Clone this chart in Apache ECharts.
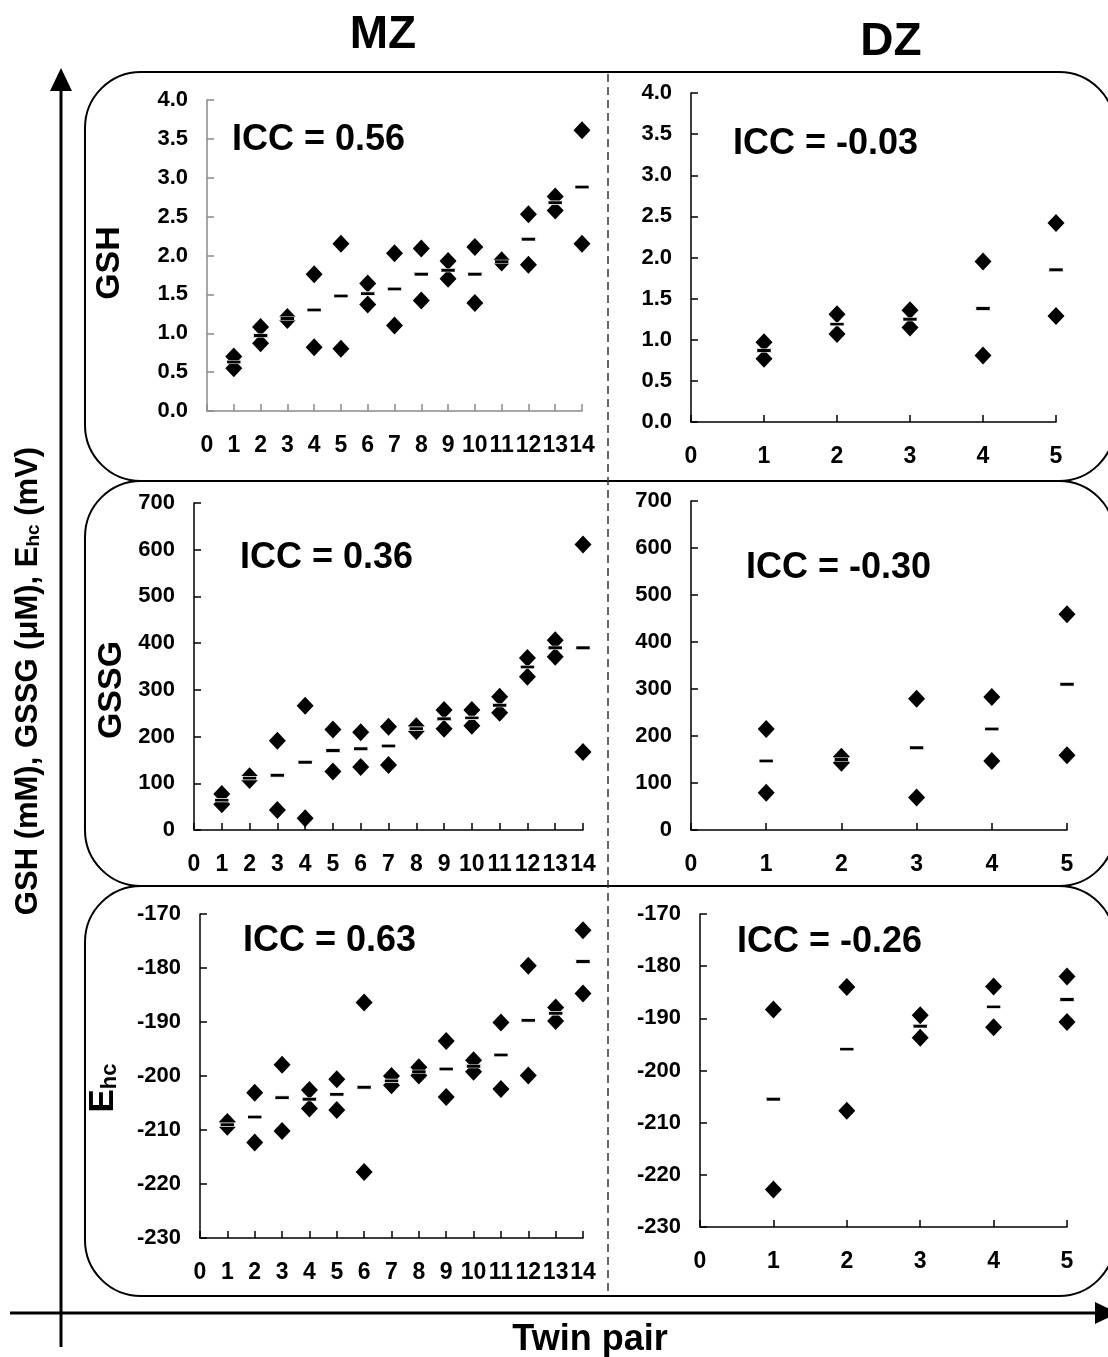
<!DOCTYPE html>
<html>
<head>
<meta charset="utf-8">
<script src="https://cdn.jsdelivr.net/npm/echarts@6.0.0/dist/echarts.min.js"></script>
</head>
<body style="margin:0;background:#fff">
<div id="chart" style="width:1108px;height:1357px"></div>
<script>
// twin pair numbers
var mzPairs = [1, 2, 3, 4, 5, 6, 7, 8, 9, 10, 11, 12, 13, 14];
var dzPairs = [1, 2, 3, 4, 5];

// GSH (mM)
var gshMzA = [0.70, 1.08, 1.21, 1.76, 2.15, 1.64, 2.03, 2.09, 1.93, 2.11, 1.94, 2.53, 2.76, 3.61];
var gshMzB = [0.55, 0.87, 1.17, 0.82, 0.80, 1.37, 1.10, 1.42, 1.70, 1.39, 1.91, 1.88, 2.58, 2.15];
var gshMzMean = [0.63, 0.97, 1.19, 1.30, 1.48, 1.51, 1.57, 1.76, 1.81, 1.76, 1.92, 2.21, 2.68, 2.88];
var gshDzA = [0.97, 1.31, 1.36, 1.95, 2.42];
var gshDzB = [0.77, 1.07, 1.15, 0.81, 1.29];
var gshDzMean = [0.87, 1.19, 1.25, 1.38, 1.85];

// GSSG (uM)
var gssgMzA = [77, 115, 191, 266, 215, 209, 221, 222, 257, 257, 285, 368, 406, 611];
var gssgMzB = [55, 107, 43, 25, 125, 135, 139, 212, 217, 223, 251, 328, 371, 167];
var gssgMzMean = [64, 111, 117, 145, 170, 174, 180, 217, 238, 240, 267, 349, 390, 390];
var gssgDzA = [215, 156, 279, 283, 459];
var gssgDzB = [79, 143, 69, 147, 159];
var gssgDzMean = [147, 150, 175, 215, 310];

// Ehc (mV)
var ehcMzA = [-208.5, -203.1, -197.9, -202.6, -200.6, -186.4, -200.0, -198.4, -193.5, -197.1, -190.1, -179.6, -187.3, -173.0];
var ehcMzB = [-209.4, -212.3, -210.2, -206.0, -206.3, -217.8, -201.7, -199.9, -203.9, -199.2, -202.4, -199.9, -189.8, -184.7];
var ehcMzMean = [-209.0, -207.6, -204.0, -204.3, -203.4, -202.1, -200.9, -199.2, -198.7, -198.2, -196.1, -189.7, -188.4, -178.8];
var ehcDzA = [-188.3, -184.0, -189.4, -183.9, -182.0];
var ehcDzB = [-222.8, -207.7, -193.7, -191.7, -190.7];
var ehcDzMean = [-205.5, -195.9, -191.5, -187.8, -186.4];

var iccLabels = ['ICC = 0.56', 'ICC = -0.03', 'ICC = 0.36', 'ICC = -0.30', 'ICC = 0.63', 'ICC = -0.26'];

var FONT = '"Liberation Sans", Arial, sans-serif';

var panels = [
    {grid: {left: 207, top: 100, width: 375, height: 311}, xmax: 14, ymin: 0, ymax: 4, step: 0.5, dec: 1, color: '#8a8a8a',
        pairs: mzPairs, a: gshMzA, b: gshMzB, m: gshMzMean},
    {grid: {left: 691, top: 93, width: 365, height: 329}, xmax: 5, ymin: 0, ymax: 4, step: 0.5, dec: 1, color: '#000',
        pairs: dzPairs, a: gshDzA, b: gshDzB, m: gshDzMean},
    {grid: {left: 194, top: 503, width: 389, height: 327}, xmax: 14, ymin: 0, ymax: 700, step: 100, dec: 0, color: '#000',
        pairs: mzPairs, a: gssgMzA, b: gssgMzB, m: gssgMzMean},
    {grid: {left: 691, top: 501, width: 376, height: 329}, xmax: 5, ymin: 0, ymax: 700, step: 100, dec: 0, color: '#000',
        pairs: dzPairs, a: gssgDzA, b: gssgDzB, m: gssgDzMean},
    {grid: {left: 200, top: 914, width: 383, height: 324}, xmax: 14, ymin: -230, ymax: -170, step: 10, dec: 0, color: '#000',
        pairs: mzPairs, a: ehcMzA, b: ehcMzB, m: ehcMzMean},
    {grid: {left: 700, top: 914, width: 367, height: 313}, xmax: 5, ymin: -230, ymax: -170, step: 10, dec: 0, color: '#000',
        pairs: dzPairs, a: ehcDzA, b: ehcDzB, m: ehcDzMean}
];

function zip(xs, ys) {
    var out = [];
    for (var i = 0; i < xs.length; i++) out.push([xs[i], ys[i]]);
    return out;
}

var grids = [], xAxes = [], yAxes = [], series = [];
panels.forEach(function (p, i) {
    grids.push(p.grid);
    xAxes.push({
        type: 'value', gridIndex: i, min: 0, max: p.xmax, interval: 1,
        axisLine: {show: true, onZero: false, lineStyle: {color: p.color, width: 1.5}},
        axisTick: {show: true, inside: true, length: 7, lineStyle: {color: p.color, width: 1.5}},
        axisLabel: {margin: 23, color: '#000', fontSize: 23, fontWeight: 'bold', fontFamily: FONT},
        splitLine: {show: false}
    });
    yAxes.push({
        type: 'value', gridIndex: i, min: p.ymin, max: p.ymax, interval: p.step,
        axisLine: {show: true, onZero: false, lineStyle: {color: p.color, width: 1.5}},
        axisTick: {show: true, inside: true, length: 7, lineStyle: {color: p.color, width: 1.5}},
        axisLabel: {margin: 19, color: '#000', fontSize: 22, fontWeight: 'bold', fontFamily: FONT,
            formatter: (function (d) { return function (v) { return v.toFixed(d); }; })(p.dec)},
        splitLine: {show: false}
    });
    [p.a, p.b].forEach(function (vals) {
        series.push({
            type: 'scatter', xAxisIndex: i, yAxisIndex: i, symbol: 'diamond', symbolSize: [17, 18],
            itemStyle: {color: '#000', opacity: 1}, data: zip(p.pairs, vals), silent: true, z: 2
        });
    });
    series.push({
        type: 'scatter', xAxisIndex: i, yAxisIndex: i, symbol: 'rect', symbolSize: [16, 3.5],
        itemStyle: {color: '#000', opacity: 1, borderColor: '#fff', borderWidth: 1.2}, data: zip(p.pairs, p.m), silent: true, z: 3
    });
});

var iccPos = [[232, 140], [733, 144], [240, 558], [746, 568], [243, 941], [737, 942]];

var graphics = [];
// rounded boxes
[[72, 409], [481, 405], [886, 410]].forEach(function (b) {
    graphics.push({type: 'rect', shape: {x: 85, y: b[0], width: 1030, height: b[1], r: 56},
        style: {fill: 'none', stroke: '#000', lineWidth: 2}, z: 0});
});
// MZ / DZ divider
graphics.push({type: 'line', shape: {x1: 608, y1: 74, x2: 608, y2: 1296},
    style: {stroke: '#333', lineWidth: 1.5, lineDash: [8, 5]}, z: 0});
// outer axes with arrows
graphics.push({type: 'line', shape: {x1: 61, y1: 1347, x2: 61, y2: 85}, style: {stroke: '#000', lineWidth: 3}});
graphics.push({type: 'polygon', shape: {points: [[61, 68], [50, 91], [72, 91]]}, style: {fill: '#000'}});
graphics.push({type: 'line', shape: {x1: 10, y1: 1313, x2: 1100, y2: 1313}, style: {stroke: '#000', lineWidth: 3}});
graphics.push({type: 'polygon', shape: {points: [[1118, 1313], [1095, 1302], [1095, 1324]]}, style: {fill: '#000'}});

function txt(x, y, text, size, rot, extra) {
    var st = {text: text, font: 'bold ' + size + 'px ' + FONT, fill: '#000',
        align: 'center', verticalAlign: 'middle', textAlign: 'center', textVerticalAlign: 'middle'};
    if (extra) for (var k in extra) st[k] = extra[k];
    return {type: 'text', x: x, y: y, rotation: rot || 0, style: st};
}

graphics.push(txt(383, 35, 'MZ', 46));
graphics.push(txt(891, 42, 'DZ', 46));
graphics.push(txt(590, 1340, 'Twin pair', 36));
graphics.push(txt(28, 681, '{n|GSH (mM), GSSG (μM), E}{s|hc}{n| (mV)}', 31, Math.PI / 2, {
    rich: {
        n: {font: 'bold 31px ' + FONT, fill: '#000'},
        s: {font: 'bold 19px ' + FONT, fill: '#000', verticalAlign: 'bottom'}
    }
}));
graphics.push(txt(110, 263, 'GSH', 34, Math.PI / 2));
graphics.push(txt(112, 690, 'GSSG', 34, Math.PI / 2));
graphics.push(txt(103, 1088, '{n|E}{s|hc}', 34, Math.PI / 2, {
    rich: {
        n: {font: 'bold 35px ' + FONT, fill: '#000'},
        s: {font: 'bold 22px ' + FONT, fill: '#000', verticalAlign: 'bottom'}
    }
}));
iccLabels.forEach(function (t, i) {
    graphics.push(txt(iccPos[i][0], iccPos[i][1], t, 36, 0, {align: 'left', textAlign: 'left'}));
});

var chart = echarts.init(document.getElementById('chart'), null, {renderer: 'canvas'});
chart.setOption({
    animation: false,
    backgroundColor: '#fff',
    grid: grids,
    xAxis: xAxes,
    yAxis: yAxes,
    series: series,
    graphic: {elements: graphics}
});
</script>
</body>
</html>
